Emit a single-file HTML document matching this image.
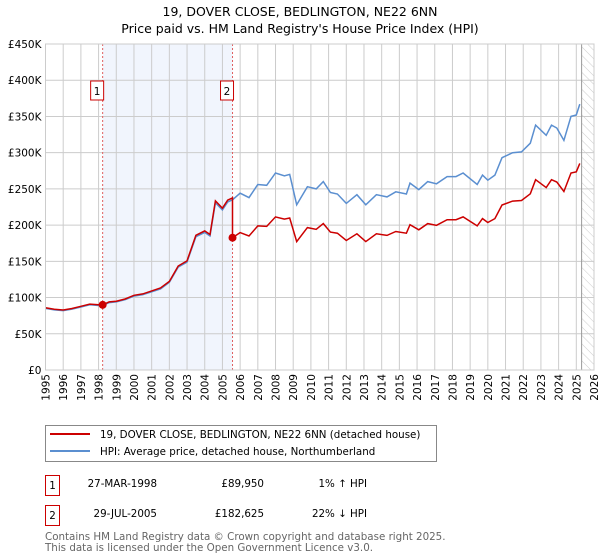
<!DOCTYPE html>
<html><head><meta charset="utf-8"><style>
body{margin:0;background:#fff}
svg{font-family:"DejaVu Sans","Liberation Sans",sans-serif;display:block}
</style></head><body>
<svg id="chart" width="600" height="560" viewBox="0 0 600 560" xmlns="http://www.w3.org/2000/svg">
<defs><pattern id="hatch" width="6" height="6" patternUnits="userSpaceOnUse" patternTransform="rotate(-45)"><line x1="0" y1="0" x2="0" y2="6" stroke="#ccc" stroke-width="1"/></pattern></defs>
<text x="300" y="16" text-anchor="middle" font-size="12.5">19, DOVER CLOSE, BEDLINGTON, NE22 6NN</text>
<text x="300" y="33" text-anchor="middle" font-size="12.5">Price paid vs. HM Land Registry's House Price Index (HPI)</text>
<g id="plot"></g>
<g>
<rect x="45.5" y="425.5" width="391" height="36" fill="#fff" stroke="#888"/>
<line x1="50" y1="434" x2="90" y2="434" stroke="#cc0000" stroke-width="2"/>
<text x="100" y="438" font-size="10.3">19, DOVER CLOSE, BEDLINGTON, NE22 6NN (detached house)</text>
<line x1="50" y1="451" x2="90" y2="451" stroke="#5b8fd0" stroke-width="2"/>
<text x="100" y="455" font-size="10.3">HPI: Average price, detached house, Northumberland</text>
</g>
<g font-size="10.3">
<rect x="45.5" y="475.5" width="14" height="20" fill="#fff" stroke="#cc0000"/>
<text x="52.5" y="489" text-anchor="middle">1</text>
<text x="157" y="487" text-anchor="end">27-MAR-1998</text>
<text x="264" y="487" text-anchor="end">£89,950</text>
<text x="367" y="487" text-anchor="end">1% ↑ HPI</text>
<rect x="45.5" y="505.5" width="14" height="20" fill="#fff" stroke="#cc0000"/>
<text x="52.5" y="519" text-anchor="middle">2</text>
<text x="157" y="517" text-anchor="end">29-JUL-2005</text>
<text x="264" y="517" text-anchor="end">£182,625</text>
<text x="367" y="517" text-anchor="end">22% ↓ HPI</text>
</g>
<text x="45" y="540" font-size="10.3" fill="#666">Contains HM Land Registry data © Crown copyright and database right 2025.</text>
<text x="45" y="551" font-size="10.3" fill="#666">This data is licensed under the Open Government Licence v3.0.</text>
</svg>
<script>
const hpiYears=[1995,1995.5,1996,1996.5,1997,1997.5,1998,1998.23,1998.6,1999,1999.5,2000,2000.5,2001,2001.5,2002,2002.5,2003,2003.5,2004,2004.3,2004.6,2005,2005.3,2005.57,2006,2006.5,2007,2007.5,2008,2008.5,2008.8,2009.2,2009.8,2010.3,2010.7,2011.1,2011.5,2012,2012.6,2013.1,2013.7,2014.3,2014.8,2015.4,2015.6,2016.1,2016.6,2017.1,2017.7,2018.2,2018.6,2019.4,2019.7,2020,2020.4,2020.8,2021.4,2021.9,2022.4,2022.7,2023.3,2023.6,2023.9,2024.3,2024.7,2025,2025.2];
const hpiValues=[85000,83000,82000,84000,87000,90000,89000,89000,93000,94000,97000,102000,104000,108000,112000,121000,142000,149000,184000,190000,185000,231000,221000,232000,235000,244000,238000,256000,255000,272000,268000,270000,228000,253000,250000,260000,245000,243000,230000,242000,228000,242000,239000,246000,243000,258000,249000,260000,257000,267000,267000,272000,256000,269000,262000,269000,293000,300000,301000,313000,338000,324000,338000,334000,317000,350000,352000,367000];
const saleYears=[1998.23,2005.57];
const salePrices=[89950,182625];
const yTicks=[0,50000,100000,150000,200000,250000,300000,350000,400000,450000];
const yTickLabels=["£0","£50K","£100K","£150K","£200K","£250K","£300K","£350K","£400K","£450K"];
const xTicks=[1995,1996,1997,1998,1999,2000,2001,2002,2003,2004,2005,2006,2007,2008,2009,2010,2011,2012,2013,2014,2015,2016,2017,2018,2019,2020,2021,2022,2023,2024,2025,2026];
const dataEnd=2025.3;

const X0=45.5,X1=594,Y0=370,Y1=44;
const xs=y=>X0+(y-1995)/(2026-1995)*(X1-X0);
const ys=v=>Y0-v/450000*(Y0-Y1);
const NS="http://www.w3.org/2000/svg";
const g=document.getElementById('plot');
function mk(t,a){const e=document.createElementNS(NS,t);for(const k in a)e.setAttribute(k,a[k]);g.appendChild(e);return e;}
let e=mk('rect',{x:xs(saleYears[0]),y:Y1,width:xs(saleYears[1])-xs(saleYears[0]),height:Y0-Y1,fill:'#eef3fd',opacity:0.8});


e=mk('rect',{x:xs(dataEnd),y:Y1,width:X1-xs(dataEnd),height:Y0-Y1,fill:'url(#hatch)'});


xTicks.forEach(t=>{const l=mk('line',{x1:xs(t),x2:xs(t),y1:Y1,y2:Y0,stroke:'#ccc'});


const px=xs(t)+4,py=Y0+4;
const tx=mk('text',{x:px,y:py,'text-anchor':'end','font-size':'10.5',transform:'rotate(-90 '+px+' '+py+')'});tx.textContent=t;

});
yTicks.forEach((t,i)=>{const l=mk('line',{x1:X0,x2:X1,y1:ys(t),y2:ys(t),stroke:'#ccc'});


const tx=mk('text',{x:X0-4,y:ys(t)+4,'text-anchor':'end','font-size':'10.5'});tx.textContent=yTickLabels[i];

});
e=mk('line',{x1:xs(dataEnd),x2:xs(dataEnd),y1:Y1,y2:Y0,stroke:'#999'});


saleYears.forEach((s,i)=>{const l=mk('line',{x1:xs(s),x2:xs(s),y1:Y1,y2:Y0,stroke:'#e06060','stroke-dasharray':'2,2'});


const r=mk('rect',{x:xs(s)-12,y:81,width:13,height:19,fill:'#fff',stroke:'#cc0000'});


const t=mk('text',{x:xs(s)-5.5,y:95,'text-anchor':'middle','font-size':'10.5'});t.textContent=i+1;

});
const hp=hpiYears.map((y,i)=>xs(y).toFixed(1)+','+ys(hpiValues[i]).toFixed(1)).join(' ');
e=mk('polyline',{points:hp,fill:'none',stroke:'#5b8fd0','stroke-width':1.5});


function hpiAt(t){for(let i=1;i<hpiYears.length;i++){if(t<=hpiYears[i]){const f=(t-hpiYears[i-1])/(hpiYears[i]-hpiYears[i-1]);return hpiValues[i-1]+f*(hpiValues[i]-hpiValues[i-1]);}}return hpiValues[hpiValues.length-1];}
const r1=salePrices[0]/hpiAt(saleYears[0]),r2=salePrices[1]/hpiAt(saleYears[1]);
let pts=[];
hpiYears.forEach((y,i)=>{if(y<saleYears[1])pts.push([y,hpiValues[i]*r1]);});
pts.push([saleYears[1],hpiAt(saleYears[1])*r1]);
pts.push([saleYears[1],salePrices[1]]);
hpiYears.forEach((y,i)=>{if(y>saleYears[1])pts.push([y,hpiValues[i]*r2]);});
e=mk('polyline',{points:pts.map(p=>xs(p[0]).toFixed(1)+','+ys(p[1]).toFixed(1)).join(' '),fill:'none',stroke:'#cc0000','stroke-width':1.5});


saleYears.forEach((s,i)=>{const c=mk('circle',{cx:xs(s),cy:ys(salePrices[i]),r:4,fill:'#cc0000'});

});
e=mk('rect',{x:X0,y:Y1,width:X1-X0,height:Y0-Y1,fill:'none',stroke:'#ccc'});


</script>
</body></html>
